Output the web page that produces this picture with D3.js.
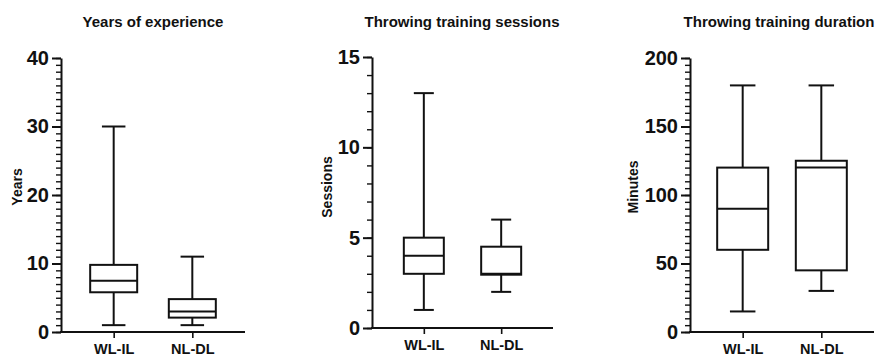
<!DOCTYPE html>
<html>
<head>
<meta charset="utf-8">
<script src="https://cdn.jsdelivr.net/npm/d3@7"></script>
<style>
  body { margin: 0; background: #fff; }
  text { font-family: "Liberation Sans", Arial, sans-serif; font-weight: bold; fill: #111; }
</style>
</head>
<body>
<div id="chart"></div>
<script>
var groups = ["WL-IL", "NL-DL"];

// years of experience
var yearsMin = [1, 1];
var yearsQ1 = [5.8, 2.1];
var yearsMed = [7.5, 3];
var yearsQ3 = [9.8, 4.8];
var yearsMax = [30, 11];

// throwing training sessions
var sessMin = [1, 2];
var sessQ1 = [3, 2.95];
var sessMed = [4, 3];
var sessQ3 = [5, 4.5];
var sessMax = [13, 6];

// throwing training duration
var durMin = [15, 30];
var durQ1 = [60, 45];
var durMed = [90, 120];
var durQ3 = [120, 125];
var durMax = [180, 180];

var width = 880, height = 361;
var ink = "#111";

var svg = d3.select("#chart").append("svg")
    .attr("width", width)
    .attr("height", height);

var panels = [
    { title: "Years of experience", ylab: "Years", max: 40, major: [0, 10, 20, 30, 40], minorStep: 1,
      x0: 61, x1: 245, yTop: 58, yBot: 332, labX: 17, titleX: 153, boxW: 47,
      mins: yearsMin, q1: yearsQ1, med: yearsMed, q3: yearsQ3, maxs: yearsMax },
    { title: "Throwing training sessions", ylab: "Sessions", max: 15, major: [0, 5, 10, 15], minorStep: 1,
      x0: 372, x1: 553, yTop: 57, yBot: 328, labX: 327, titleX: 462, boxW: 40,
      mins: sessMin, q1: sessQ1, med: sessMed, q3: sessQ3, maxs: sessMax },
    { title: "Throwing training duration", ylab: "Minutes", max: 200, major: [0, 50, 100, 150, 200], minorStep: 5,
      x0: 690, x1: 874, yTop: 58, yBot: 332, labX: 633, titleX: 779, boxW: 51,
      mins: durMin, q1: durQ1, med: durMed, q3: durQ3, maxs: durMax }
];

panels.forEach(function (p) {
    var g = svg.append("g");

    var y = d3.scaleLinear().domain([0, p.max]).range([p.yBot, p.yTop]);
    var x = d3.scalePoint().domain(groups).range([p.x0, p.x1]).padding(0.67);

    // minor ticks
    var minorVals = d3.range(0, p.max + 0.001, p.minorStep);
    g.append("g")
        .attr("transform", "translate(" + p.x0 + ",0)")
        .call(d3.axisLeft(y).tickValues(minorVals).tickSize(5).tickSizeOuter(0).tickFormat(""))
        .call(function (a) {
            a.select(".domain").remove();
            a.selectAll("line").attr("stroke", ink).attr("stroke-width", 1.4);
        });

    // major ticks + labels
    g.append("g")
        .attr("transform", "translate(" + p.x0 + ",0)")
        .call(d3.axisLeft(y).tickValues(p.major).tickSize(9).tickSizeOuter(0).tickPadding(3).tickFormat(d3.format("d")))
        .call(function (a) {
            a.select(".domain").attr("stroke", ink).attr("stroke-width", 2);
            a.selectAll("line").attr("stroke", ink).attr("stroke-width", 2);
            a.selectAll("text").attr("font-size", 20).attr("fill", ink);
        });

    // x axis
    g.append("g")
        .attr("transform", "translate(0," + p.yBot + ")")
        .call(d3.axisBottom(x).tickSize(6).tickSizeOuter(0).tickPadding(6))
        .call(function (a) {
            a.select(".domain").attr("stroke", ink).attr("stroke-width", 2)
                .attr("d", "M" + (p.x0 - 1) + ",0H" + p.x1);
            a.selectAll("line").attr("stroke", ink).attr("stroke-width", 1.6);
            a.selectAll("text").attr("font-size", 14.5).attr("fill", ink);
        });

    // boxes
    var boxes = g.selectAll(".box")
        .data(groups)
        .enter().append("g")
        .attr("class", "box");

    boxes.append("line")
        .attr("x1", function (d) { return x(d); })
        .attr("x2", function (d) { return x(d); })
        .attr("y1", function (d, i) { return y(p.maxs[i]); })
        .attr("y2", function (d, i) { return y(p.mins[i]); })
        .attr("stroke", ink).attr("stroke-width", 2);

    [p.maxs, p.mins].forEach(function (arr) {
        boxes.append("line")
            .attr("x1", function (d) { return x(d) - p.boxW / 4; })
            .attr("x2", function (d) { return x(d) + p.boxW / 4; })
            .attr("y1", function (d, i) { return y(arr[i]); })
            .attr("y2", function (d, i) { return y(arr[i]); })
            .attr("stroke", ink).attr("stroke-width", 2);
    });

    boxes.append("rect")
        .attr("x", function (d) { return x(d) - p.boxW / 2; })
        .attr("width", p.boxW)
        .attr("y", function (d, i) { return y(p.q3[i]); })
        .attr("height", function (d, i) { return y(p.q1[i]) - y(p.q3[i]); })
        .attr("fill", "#fff")
        .attr("stroke", ink).attr("stroke-width", 2);

    boxes.append("line")
        .attr("x1", function (d) { return x(d) - p.boxW / 2; })
        .attr("x2", function (d) { return x(d) + p.boxW / 2; })
        .attr("y1", function (d, i) { return y(p.med[i]); })
        .attr("y2", function (d, i) { return y(p.med[i]); })
        .attr("stroke", ink).attr("stroke-width", 2);

    // titles
    g.append("text")
        .attr("x", p.titleX)
        .attr("y", 27)
        .attr("text-anchor", "middle")
        .attr("font-size", 15)
        .text(p.title);

    g.append("text")
        .attr("transform", "translate(" + p.labX + ",187) rotate(-90)")
        .attr("text-anchor", "middle")
        .attr("dy", "0.35em")
        .attr("font-size", 14)
        .text(p.ylab);
});
</script>
</body>
</html>
